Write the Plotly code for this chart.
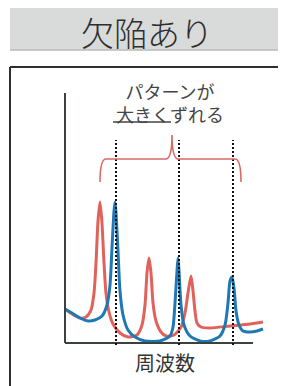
import plotly.graph_objects as go

# ---- data (frequency / amplitude, arbitrary units) ----
red_freq = [0, 7, 15, 21, 26, 29, 31, 33, 35, 37, 39, 41, 44, 48, 55, 63, 72, 77, 80, 82, 84, 86, 88, 91, 96, 101, 109, 116, 120, 123, 126, 128, 130, 132, 136, 145, 165, 185, 198]
red_amp  = [34, 29, 25, 26, 33, 50, 80, 122, 141, 120, 80, 50, 31, 19, 10, 6, 8, 18, 38, 70, 85, 70, 40, 22, 11, 7, 8, 16, 30, 50, 67, 52, 32, 20, 16, 15, 17, 19, 21]
blue_freq = [0, 7, 15, 23, 30, 37, 42, 45, 47, 49, 50, 51, 53, 55, 58, 63, 70, 80, 95, 105, 108, 110, 112, 113, 114, 116, 119, 125, 135, 145, 155, 160, 163, 165, 167, 169, 171, 174, 178, 185, 192, 198]
blue_amp  = [34, 30, 25, 22, 23, 27, 38, 58, 95, 132, 141, 130, 92, 52, 28, 13, 6, 2, 2, 7, 16, 40, 72, 85, 72, 38, 18, 7, 2, 2, 7, 18, 40, 62, 66, 55, 32, 18, 12, 11, 12, 14]
marker_freq = [51, 114, 168]

title_text = "欠陥あり"
note_text = "パターンが<br>大きくずれる"
axis_label = "周波数"

RED = "#e0625a"
BLUE = "#1f78b6"
AX = "#3b423d"

# page body has an 8px margin; figure occupies the rest of the 286x386 window
OFF = 8
W, H = 286 - OFF, 386 - OFF


def px(x):
    return (x - OFF) / W


def py(y):
    return 1 - (y - OFF) / H


fig = go.Figure()
fig.add_trace(go.Scatter(x=red_freq, y=red_amp, mode="lines",
                         line=dict(color=RED, width=3, shape="spline", smoothing=0.7),
                         hoverinfo="skip", showlegend=False))
fig.add_trace(go.Scatter(x=blue_freq, y=blue_amp, mode="lines",
                         line=dict(color=BLUE, width=3, shape="spline", smoothing=0.7),
                         hoverinfo="skip", showlegend=False))

shapes = []
# title banner
shapes.append(dict(type="rect", xref="paper", yref="paper", x0=px(10), x1=1.0,
                   y0=py(50), y1=py(3), fillcolor="#d9dbda", line=dict(width=0), layer="below"))
shapes.append(dict(type="line", xref="paper", yref="paper", x0=px(10), x1=1.0,
                   y0=py(50), y1=py(50), line=dict(color="#b8bab9", width=1.5)))
# outer frame
shapes.append(dict(type="line", xref="paper", yref="paper", x0=px(10), x1=1.0,
                   y0=py(67), y1=py(67), line=dict(color="#2f2f2f", width=2)))
shapes.append(dict(type="line", xref="paper", yref="paper", x0=px(10), x1=px(10),
                   y0=0, y1=py(67), line=dict(color="#2f2f2f", width=2)))
# inner axes
shapes.append(dict(type="line", x0=0, x1=0, y0=0, y1=250, line=dict(color=AX, width=2)))
shapes.append(dict(type="line", x0=0, x1=188, y0=0, y1=0, line=dict(color=AX, width=2)))
# dotted marker lines
for f in marker_freq:
    shapes.append(dict(type="line", x0=f, x1=f, y0=-2, y1=203,
                       line=dict(color="#111111", width=2, dash="2px,2px")))
# brace
shapes.append(dict(type="path",
                   path="M 35,161 Q 35,184 41,184 L 101,184 Q 107,185 107,208 Q 107,185 113,184 "
                        "L 170,184 Q 176,184 176,161",
                   line=dict(color="#d96a66", width=1.6)))
# underline for 大きく
shapes.append(dict(type="line", x0=48, x1=106, y0=221, y1=221, line=dict(color="#444444", width=1.3)))

fig.update_layout(
    width=W, height=H,
    margin=dict(l=0, r=0, t=0, b=0),
    paper_bgcolor="white", plot_bgcolor="white",
    xaxis=dict(range=[OFF - 65, 286 - 65], visible=False, fixedrange=True),
    yaxis=dict(range=[343 - 386, 343 - OFF], visible=False, fixedrange=True),
    shapes=shapes,
    annotations=[
        dict(text=title_text, xref="paper", yref="paper", x=px(147), y=py(32.5),
             showarrow=False, xanchor="center", yanchor="middle",
             font=dict(family="Noto Sans CJK JP", size=33, color="#2e2e2e", weight=300)),
        dict(text=note_text, x=105, y=241, showarrow=False, xanchor="center", yanchor="middle",
             font=dict(family="Noto Sans CJK JP", size=18, color="#444444")),
        dict(text=axis_label, x=100, y=-19, showarrow=False, xanchor="center", yanchor="middle",
             font=dict(family="Noto Sans CJK JP", size=20, color="#333333")),
    ],
)

fig.write_html("out.html")
